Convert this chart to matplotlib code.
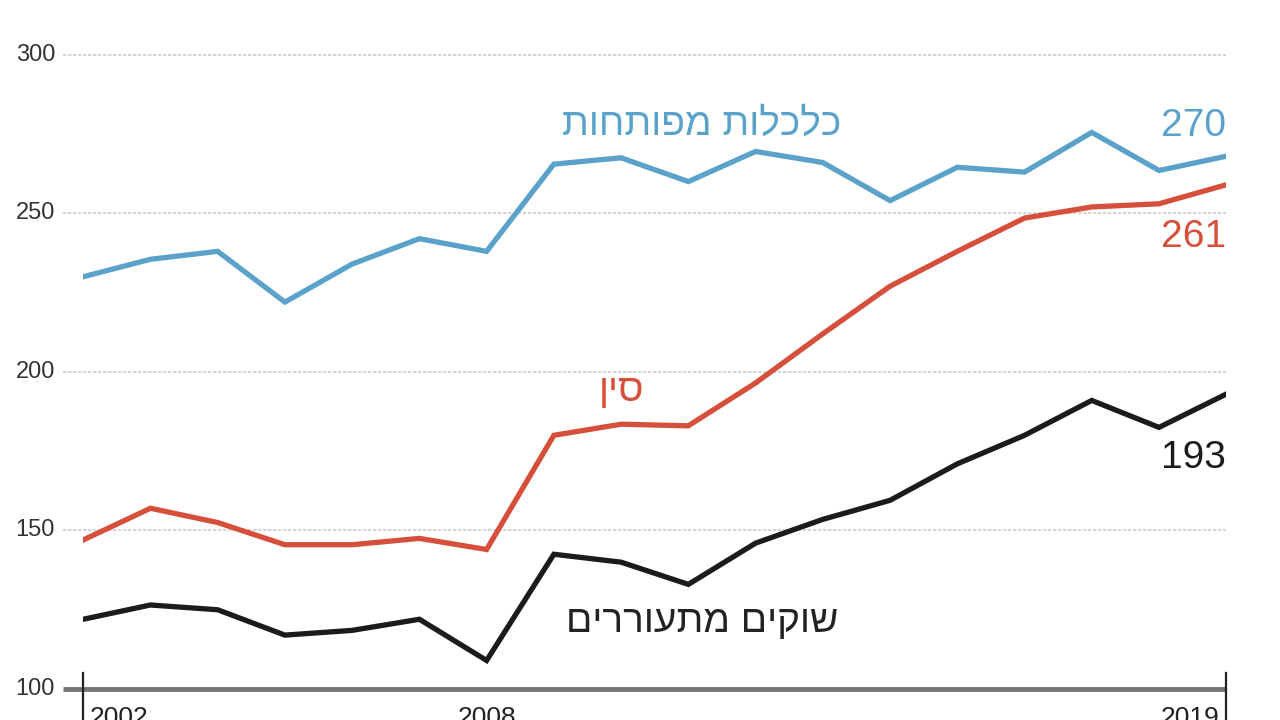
import numpy as np
import matplotlib.pyplot as plt

# Data
years = np.arange(2002, 2020)
developed = [230, 235.5, 238, 222, 234, 242, 238, 265.5, 267.5, 260, 269.5, 266, 254, 264.5, 263, 275.5, 263.5, 268]
china = [147, 157, 152.5, 145.5, 145.5, 147.5, 144, 180, 183.5, 183, 196.5, 212, 227, 238, 248.5, 252, 253, 259]
emerging = [122, 126.5, 125, 117, 118.5, 122, 109, 142.5, 140, 133, 146, 153.5, 159.5, 171, 180, 191, 182.5, 193]

y_ticks = [100, 150, 200, 250, 300]
x_ticks = [2002, 2008, 2019]

name_developed = "כלכלות מפותחות"
name_china = "סין"
name_emerging = "שוקים מתעוררים"

c_blue = "#5aa2ca"
c_red = "#d64f3a"
c_black = "#1b1b1b"

plt.rcParams["font.family"] = ["Liberation Sans", "DejaVu Sans"]


def rtl(s):
    # matplotlib has no bidi support, so flip Hebrew by hand
    return s[::-1]


fig = plt.figure(figsize=(12.8, 7.2), dpi=100)
ax = fig.add_axes([0.065, 0.043, 0.893, 0.881])
ax.set_xlim(2002, 2019)
ax.set_ylim(100, 300)
for s in ax.spines.values():
    s.set_visible(False)
ax.set_xticks([])
ax.set_yticks([])

# grid lines (dotted, reaching left of the plot)
for v in y_ticks[1:]:
    ax.plot([2001.7, 2019], [v, v], color="#cccccc", lw=1.2, ls=(0, (2, 1)), clip_on=False, zorder=1)
for v in y_ticks:
    ax.text(2001.58, v, str(v), ha="right", va="center", fontsize=17, color="#333333", clip_on=False)

# baseline
ax.plot([2001.7, 2019], [100, 100], color="#777777", lw=3.5, clip_on=False, zorder=2, solid_capstyle="butt")
for xv in [2002, 2019]:
    ax.plot([xv, xv], [105, 90], color="#222222", lw=1.6, clip_on=False, zorder=3)

# year labels (cut by the bottom edge)
ax.text(2002.1, 94.8, str(x_ticks[0]), ha="left", va="top", fontsize=19, color="#222222", clip_on=False)
ax.text(2008, 94.8, str(x_ticks[1]), ha="center", va="top", fontsize=19, color="#222222", clip_on=False)
ax.text(2018.9, 94.8, str(x_ticks[2]), ha="right", va="top", fontsize=19, color="#222222", clip_on=False)

# series
ax.plot(years, developed, color=c_blue, lw=3.8, zorder=4, solid_joinstyle="miter")
ax.plot(years, china, color=c_red, lw=3.8, zorder=4, solid_joinstyle="miter")
ax.plot(years, emerging, color=c_black, lw=3.8, zorder=4, solid_joinstyle="miter")

# labels
ax.text(2011.2, 278, rtl(name_developed), ha="center", va="center", fontsize=28, color=c_blue)
ax.text(2019, 277.5, "270", ha="right", va="center", fontsize=28, color=c_blue)
ax.text(2019, 242.5, "261", ha="right", va="center", fontsize=28, color=c_red)
ax.text(2010.0, 194, rtl(name_china), ha="center", va="center", fontsize=28, color=c_red)
ax.text(2019, 173, "193", ha="right", va="center", fontsize=28, color=c_black)
ax.text(2011.2, 121, rtl(name_emerging), ha="center", va="center", fontsize=28, color="#222222")

fig.savefig("out.png", dpi=100)
